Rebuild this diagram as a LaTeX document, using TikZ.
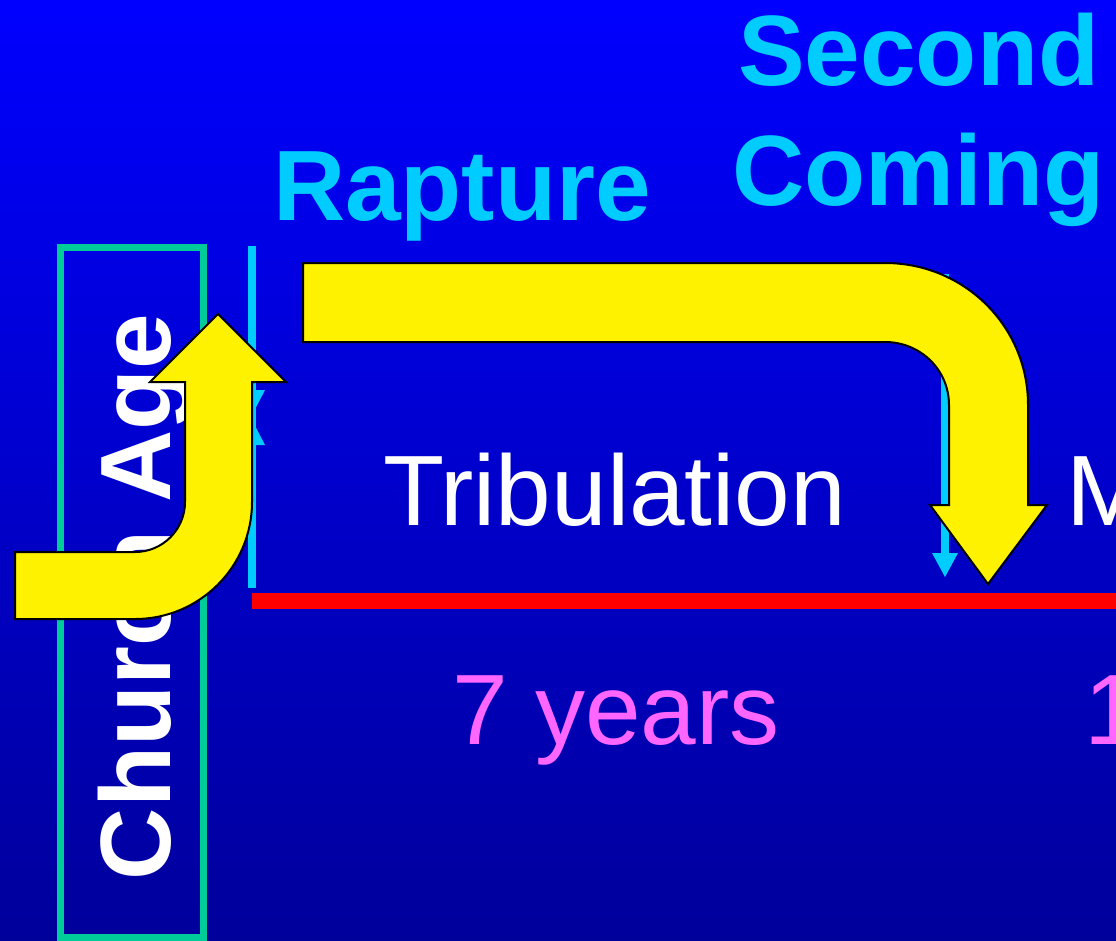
\documentclass[tikz,border=0pt]{standalone}
\usepackage{fontspec}
\setmainfont{Liberation Sans}
\definecolor{cyanT}{RGB}{0,204,255}
\definecolor{boxgreen}{RGB}{0,204,153}
\definecolor{magT}{RGB}{255,102,255}
\definecolor{bgtop}{RGB}{0,0,255}
\definecolor{bgbot}{RGB}{0,0,155}
\tikzset{
  big/.style={font=\fontsize{100}{120}\selectfont, inner sep=0pt, outer sep=0pt},
  bigbold/.style={font=\fontsize{100}{120}\selectfont\bfseries, inner sep=0pt, outer sep=0pt},
  yarrow/.style={fill=yellow, draw=black, line width=2pt, line join=miter},
  cyanline/.style={draw=cyanT, line width=8pt},
}
\begin{document}
\begin{tikzpicture}[x=1pt,y=-1pt]
\useasboundingbox (0,0) rectangle (1116,940);
\clip (0,0) rectangle (1116,940);
\shade[top color=bgtop, bottom color=bgbot] (0,0) rectangle (1116,940);
% Church Age box
\node[draw=boxgreen, line width=7pt, minimum width=143pt, minimum height=690pt, inner sep=0pt] (box) at (131.5,592) {};
\node[bigbold, white, rotate=90, anchor=base west] (church) at (170,880) {Church Age};
% cyan markers
\coordinate (rtop) at (252,246);
\coordinate (rbot) at (252,588);
\draw[cyanline] (rtop) -- (rbot);
\fill[cyanT] (239,390) -- (265,390) -- (252,415) -- cycle;
\fill[cyanT] (239,445) -- (265,445) -- (252,420) -- cycle;
\coordinate (stop) at (945,274);
\coordinate (sbot) at (945,555);
\draw[cyanline] (stop) -- (sbot);
\fill[cyanT] (932,553) -- (958,553) -- (945,577) -- cycle;
% red timeline
\coordinate (tl) at (252,601);
\coordinate (tr) at (1116,601);
\draw[red, line width=16pt] (tl) -- (tr);
% labels
\node[bigbold, cyanT, anchor=base west] (rapture) at (273,220) {Rapture};
\node[bigbold, cyanT, anchor=base west] (second) at (738,85) {Second};
\node[bigbold, cyanT, anchor=base west] (coming) at (732,205) {Coming};
\node[big, white, anchor=base west] (trib) at (383,525) {Tribulation};
\node[big, white, anchor=base west] (mill) at (1066,525) {M};
\node[big, magT, anchor=base west] (seven) at (452,744) {7 years};
\node[big, magT, anchor=base west] (thou) at (1084,744) {1};
% left yellow arrow
\path[yarrow] (15,552) -- (135,552)
  .. controls (162.6,552) and (185,529.6) .. (185,502)
  -- (185,382) -- (150,382) -- (218,314) -- (286,382) -- (252,382) -- (252,502)
  .. controls (252,566.6) and (199.6,619) .. (135,619)
  -- (15,619) -- cycle;
% big yellow arrow
\path[yarrow] (303,263) -- (885,263)
  .. controls (964,263) and (1028,326) .. (1028,405)
  -- (1028,505) -- (1047,505) -- (988,584) -- (930,505) -- (949,505) -- (949,405)
  .. controls (949,369.7) and (920.3,342) .. (885,342)
  -- (303,342) -- cycle;
\end{tikzpicture}
\end{document}
